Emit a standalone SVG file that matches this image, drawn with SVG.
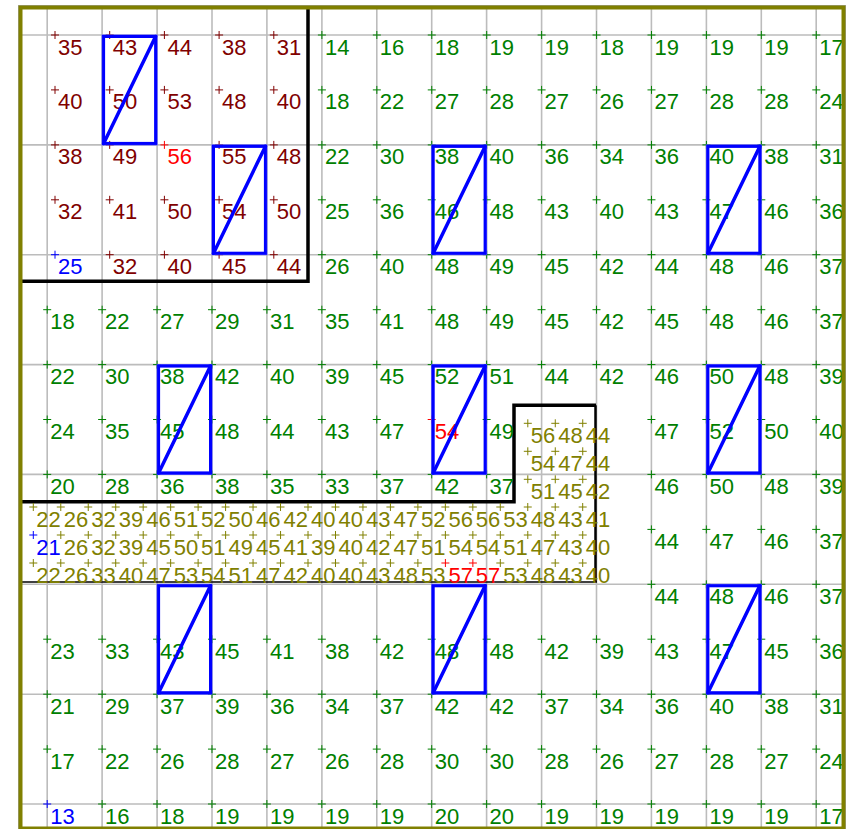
<svg xmlns="http://www.w3.org/2000/svg" xmlns:xlink="http://www.w3.org/1999/xlink" width="852" height="829" viewBox="0 0 852 829">
<style>
text{font-family:"Liberation Sans",Arial,sans-serif;font-size:22px}
.g{fill:#008000}.m{fill:#800000}.o{fill:#808000}.r{fill:#ff0000}.b{fill:#0000ff}
.pg{stroke:#008000}.pm{stroke:#800000}.po{stroke:#808000}.pr{stroke:#ff0000}.pb{stroke:#0000ff}
.mk{fill:none;stroke-width:1}
.box{fill:none;stroke:#0000ff;stroke-width:3}
.boxt{fill:none;stroke:#5555ff;stroke-width:1}
.diag{stroke:#0000ff;stroke-width:3.5;stroke-linecap:round}
</style>
<rect x="0" y="0" width="852" height="829" fill="#ffffff"/>
<g id="grid" fill="none" stroke="#bcbcbc" stroke-width="1.6">
<path d="M47.2 7V828M102.1 7V828M157.1 7V828M212 7V828M266.9 7V828M321.9 7V828M376.8 7V828M431.7 7V828M486.6 7V828M541.6 7V828M596.5 7V828M651.4 7V828M706.4 7V828M761.3 7V828M816.2 7V828"/>
<path d="M20 35H844M20 144.9H844M20 254.7H844M20 364.6H844M20 474.4H844M20 584.3H844M20 694.2H844M20 804H844"/>
</g>
<g id="boundaries" fill="none" stroke="#000000">
<path d="M22 281.3H308V8" stroke-width="3.5"/>
<path d="M22 501.7H514V405.3H596" stroke-width="3.5"/>
<path d="M595.5 405.3V582" stroke-width="2.5"/>
<path d="M22 582H597" stroke-width="1.5"/>
</g>
<g id="markers" class="mk">
<path class="pg" d="M317.9 35h8m-4-4v8m50.93-4h8m-4-4v8m50.93-4h8m-4-4v8m50.93-4h8m-4-4v8m50.93-4h8m-4-4v8m50.93-4h8m-4-4v8m50.93-4h8m-4-4v8m50.93-4h8m-4-4v8m50.93-4h8m-4-4v8m50.93-4h8m-4-4v8
M317.9 89.9h8m-4-4v8m50.93-4h8m-4-4v8m50.93-4h8m-4-4v8m50.93-4h8m-4-4v8m50.93-4h8m-4-4v8m50.93-4h8m-4-4v8m50.93-4h8m-4-4v8m50.93-4h8m-4-4v8m50.93-4h8m-4-4v8m50.93-4h8m-4-4v8
M317.9 144.9h8m-4-4v8m50.93-4h8m-4-4v8m50.93-4h8m-4-4v8m50.93-4h8m-4-4v8m50.93-4h8m-4-4v8m50.93-4h8m-4-4v8m50.93-4h8m-4-4v8m50.93-4h8m-4-4v8m50.93-4h8m-4-4v8m50.93-4h8m-4-4v8
M317.9 199.8h8m-4-4v8m50.93-4h8m-4-4v8m50.93-4h8m-4-4v8m50.93-4h8m-4-4v8m50.93-4h8m-4-4v8m50.93-4h8m-4-4v8m50.93-4h8m-4-4v8m50.93-4h8m-4-4v8m50.93-4h8m-4-4v8m50.93-4h8m-4-4v8
M317.9 254.7h8m-4-4v8m50.93-4h8m-4-4v8m50.93-4h8m-4-4v8m50.93-4h8m-4-4v8m50.93-4h8m-4-4v8m50.93-4h8m-4-4v8m50.93-4h8m-4-4v8m50.93-4h8m-4-4v8m50.93-4h8m-4-4v8m50.93-4h8m-4-4v8
M43.2 309.7h8m-4-4v8m50.93-4h8m-4-4v8m50.93-4h8m-4-4v8m50.93-4h8m-4-4v8m50.93-4h8m-4-4v8m50.93-4h8m-4-4v8m50.93-4h8m-4-4v8m50.93-4h8m-4-4v8m50.93-4h8m-4-4v8m50.93-4h8m-4-4v8m50.93-4h8m-4-4v8m50.93-4h8m-4-4v8m50.93-4h8m-4-4v8m50.93-4h8m-4-4v8m50.93-4h8m-4-4v8
M43.2 364.6h8m-4-4v8m50.93-4h8m-4-4v8m50.93-4h8m-4-4v8m50.93-4h8m-4-4v8m50.93-4h8m-4-4v8m50.93-4h8m-4-4v8m50.93-4h8m-4-4v8m50.93-4h8m-4-4v8m50.93-4h8m-4-4v8m50.93-4h8m-4-4v8m50.93-4h8m-4-4v8m50.93-4h8m-4-4v8m50.93-4h8m-4-4v8m50.93-4h8m-4-4v8m50.93-4h8m-4-4v8
M43.2 419.5h8m-4-4v8m50.93-4h8m-4-4v8m50.93-4h8m-4-4v8m50.93-4h8m-4-4v8m50.93-4h8m-4-4v8m50.93-4h8m-4-4v8m50.93-4h8m-4-4v8M482.6 419.5h8m-4-4v8M647.4 419.5h8m-4-4v8m50.93-4h8m-4-4v8m50.93-4h8m-4-4v8m50.93-4h8m-4-4v8
M43.2 474.4h8m-4-4v8m50.93-4h8m-4-4v8m50.93-4h8m-4-4v8m50.93-4h8m-4-4v8m50.93-4h8m-4-4v8m50.93-4h8m-4-4v8m50.93-4h8m-4-4v8m50.93-4h8m-4-4v8m50.93-4h8m-4-4v8M647.4 474.4h8m-4-4v8m50.93-4h8m-4-4v8m50.93-4h8m-4-4v8m50.93-4h8m-4-4v8
M647.4 529.4h8m-4-4v8m50.93-4h8m-4-4v8m50.93-4h8m-4-4v8m50.93-4h8m-4-4v8
M647.4 584.3h8m-4-4v8m50.93-4h8m-4-4v8m50.93-4h8m-4-4v8m50.93-4h8m-4-4v8
M43.2 639.2h8m-4-4v8m50.93-4h8m-4-4v8m50.93-4h8m-4-4v8m50.93-4h8m-4-4v8m50.93-4h8m-4-4v8m50.93-4h8m-4-4v8m50.93-4h8m-4-4v8m50.93-4h8m-4-4v8m50.93-4h8m-4-4v8m50.93-4h8m-4-4v8m50.93-4h8m-4-4v8m50.93-4h8m-4-4v8m50.93-4h8m-4-4v8m50.93-4h8m-4-4v8m50.93-4h8m-4-4v8
M43.2 694.2h8m-4-4v8m50.93-4h8m-4-4v8m50.93-4h8m-4-4v8m50.93-4h8m-4-4v8m50.93-4h8m-4-4v8m50.93-4h8m-4-4v8m50.93-4h8m-4-4v8m50.93-4h8m-4-4v8m50.93-4h8m-4-4v8m50.93-4h8m-4-4v8m50.93-4h8m-4-4v8m50.93-4h8m-4-4v8m50.93-4h8m-4-4v8m50.93-4h8m-4-4v8m50.93-4h8m-4-4v8
M43.2 749.1h8m-4-4v8m50.93-4h8m-4-4v8m50.93-4h8m-4-4v8m50.93-4h8m-4-4v8m50.93-4h8m-4-4v8m50.93-4h8m-4-4v8m50.93-4h8m-4-4v8m50.93-4h8m-4-4v8m50.93-4h8m-4-4v8m50.93-4h8m-4-4v8m50.93-4h8m-4-4v8m50.93-4h8m-4-4v8m50.93-4h8m-4-4v8m50.93-4h8m-4-4v8m50.93-4h8m-4-4v8
M98.1 804h8m-4-4v8m50.93-4h8m-4-4v8m50.93-4h8m-4-4v8m50.93-4h8m-4-4v8m50.93-4h8m-4-4v8m50.93-4h8m-4-4v8m50.93-4h8m-4-4v8m50.93-4h8m-4-4v8m50.93-4h8m-4-4v8m50.93-4h8m-4-4v8m50.93-4h8m-4-4v8m50.93-4h8m-4-4v8m50.93-4h8m-4-4v8m50.93-4h8m-4-4v8"/>
<path class="pm" d="M51 35h8m-4-4v8m50.7-4h8m-4-4v8m50.7-4h8m-4-4v8m50.7-4h8m-4-4v8m50.7-4h8m-4-4v8
M51 89.9h8m-4-4v8m50.7-4h8m-4-4v8m50.7-4h8m-4-4v8m50.7-4h8m-4-4v8m50.7-4h8m-4-4v8
M51 144.9h8m-4-4v8m50.7-4h8m-4-4v8M215.1 144.9h8m-4-4v8m50.7-4h8m-4-4v8
M51 199.8h8m-4-4v8m50.7-4h8m-4-4v8m50.7-4h8m-4-4v8m50.7-4h8m-4-4v8m50.7-4h8m-4-4v8
M105.7 254.7h8m-4-4v8m50.7-4h8m-4-4v8m50.7-4h8m-4-4v8m50.7-4h8m-4-4v8"/>
<path class="po" d="M523.8 423.3h8m-4-4v8m23.47-4h8m-4-4v8m23.47-4h8m-4-4v8
M523.8 451.3h8m-4-4v8m23.47-4h8m-4-4v8m23.47-4h8m-4-4v8
M523.8 479.3h8m-4-4v8m23.47-4h8m-4-4v8m23.47-4h8m-4-4v8
M29.3 507h8m-4-4v8m23.47-4h8m-4-4v8m23.47-4h8m-4-4v8m23.47-4h8m-4-4v8m23.47-4h8m-4-4v8m23.47-4h8m-4-4v8m23.47-4h8m-4-4v8m23.47-4h8m-4-4v8m23.47-4h8m-4-4v8m23.47-4h8m-4-4v8m23.47-4h8m-4-4v8m23.47-4h8m-4-4v8m23.47-4h8m-4-4v8m23.47-4h8m-4-4v8m23.47-4h8m-4-4v8m23.47-4h8m-4-4v8m23.47-4h8m-4-4v8m23.47-4h8m-4-4v8m23.47-4h8m-4-4v8m23.47-4h8m-4-4v8m23.47-4h8m-4-4v8
M56.8 535h8m-4-4v8m23.47-4h8m-4-4v8m23.47-4h8m-4-4v8m23.47-4h8m-4-4v8m23.47-4h8m-4-4v8m23.47-4h8m-4-4v8m23.47-4h8m-4-4v8m23.47-4h8m-4-4v8m23.47-4h8m-4-4v8m23.47-4h8m-4-4v8m23.47-4h8m-4-4v8m23.47-4h8m-4-4v8m23.47-4h8m-4-4v8m23.47-4h8m-4-4v8m23.47-4h8m-4-4v8m23.47-4h8m-4-4v8m23.47-4h8m-4-4v8m23.47-4h8m-4-4v8m23.47-4h8m-4-4v8m23.47-4h8m-4-4v8
M29.3 563h8m-4-4v8m23.47-4h8m-4-4v8m23.47-4h8m-4-4v8m23.47-4h8m-4-4v8m23.47-4h8m-4-4v8m23.47-4h8m-4-4v8m23.47-4h8m-4-4v8m23.47-4h8m-4-4v8m23.47-4h8m-4-4v8m23.47-4h8m-4-4v8m23.47-4h8m-4-4v8m23.47-4h8m-4-4v8m23.47-4h8m-4-4v8m23.47-4h8m-4-4v8m23.47-4h8m-4-4v8
M496.3 563h8m-4-4v8m23.47-4h8m-4-4v8m23.47-4h8m-4-4v8m23.47-4h8m-4-4v8"/>
<path class="pr" d="M160.4 144.9h8m-4-4v8M427.7 419.5h8m-4-4v8M441.4 563h8m-4-4v8m23.47-4h8m-4-4v8"/>
<path class="pb" d="M51 254.7h8m-4-4v8M43.2 804h8m-4-4v8M29.3 535h8m-4-4v8"/>
</g>
<g id="labels-refined-top" class="m">
<text x="58" y="54.5">35</text><text x="112.7" y="54.5">43</text><text x="167.4" y="54.5">44</text><text x="222.1" y="54.5">38</text><text x="276.8" y="54.5">31</text>
<text x="58" y="109.4">40</text><text x="112.7" y="109.4">50</text><text x="167.4" y="109.4">53</text><text x="222.1" y="109.4">48</text><text x="276.8" y="109.4">40</text>
<text x="58" y="164.4">38</text><text x="112.7" y="164.4">49</text><text class="r" x="167.4" y="164.4">56</text><text x="222.1" y="164.4">55</text><text x="276.8" y="164.4">48</text>
<text x="58" y="219.3">32</text><text x="112.7" y="219.3">41</text><text x="167.4" y="219.3">50</text><text x="222.1" y="219.3">54</text><text x="276.8" y="219.3">50</text>
<text class="b" x="58" y="274.2">25</text><text x="112.7" y="274.2">32</text><text x="167.4" y="274.2">40</text><text x="222.1" y="274.2">45</text><text x="276.8" y="274.2">44</text>
</g>
<g id="labels-coarse" class="g">
<text x="324.9" y="54.5">14</text><text x="379.8" y="54.5">16</text><text x="434.7" y="54.5">18</text><text x="489.6" y="54.5">19</text><text x="544.6" y="54.5">19</text><text x="599.5" y="54.5">18</text><text x="654.4" y="54.5">19</text><text x="709.4" y="54.5">19</text><text x="764.3" y="54.5">19</text><text x="819.2" y="54.5">17</text>
<text x="324.9" y="109.4">18</text><text x="379.8" y="109.4">22</text><text x="434.7" y="109.4">27</text><text x="489.6" y="109.4">28</text><text x="544.6" y="109.4">27</text><text x="599.5" y="109.4">26</text><text x="654.4" y="109.4">27</text><text x="709.4" y="109.4">28</text><text x="764.3" y="109.4">28</text><text x="819.2" y="109.4">24</text>
<text x="324.9" y="164.4">22</text><text x="379.8" y="164.4">30</text><text x="434.7" y="164.4">38</text><text x="489.6" y="164.4">40</text><text x="544.6" y="164.4">36</text><text x="599.5" y="164.4">34</text><text x="654.4" y="164.4">36</text><text x="709.4" y="164.4">40</text><text x="764.3" y="164.4">38</text><text x="819.2" y="164.4">31</text>
<text x="324.9" y="219.3">25</text><text x="379.8" y="219.3">36</text><text x="434.7" y="219.3">46</text><text x="489.6" y="219.3">48</text><text x="544.6" y="219.3">43</text><text x="599.5" y="219.3">40</text><text x="654.4" y="219.3">43</text><text x="709.4" y="219.3">47</text><text x="764.3" y="219.3">46</text><text x="819.2" y="219.3">36</text>
<text x="324.9" y="274.2">26</text><text x="379.8" y="274.2">40</text><text x="434.7" y="274.2">48</text><text x="489.6" y="274.2">49</text><text x="544.6" y="274.2">45</text><text x="599.5" y="274.2">42</text><text x="654.4" y="274.2">44</text><text x="709.4" y="274.2">48</text><text x="764.3" y="274.2">46</text><text x="819.2" y="274.2">37</text>
<text x="50.2" y="329.2">18</text><text x="105.1" y="329.2">22</text><text x="160.1" y="329.2">27</text><text x="215" y="329.2">29</text><text x="269.9" y="329.2">31</text><text x="324.9" y="329.2">35</text><text x="379.8" y="329.2">41</text><text x="434.7" y="329.2">48</text><text x="489.6" y="329.2">49</text><text x="544.6" y="329.2">45</text><text x="599.5" y="329.2">42</text><text x="654.4" y="329.2">45</text><text x="709.4" y="329.2">48</text><text x="764.3" y="329.2">46</text><text x="819.2" y="329.2">37</text>
<text x="50.2" y="384.1">22</text><text x="105.1" y="384.1">30</text><text x="160.1" y="384.1">38</text><text x="215" y="384.1">42</text><text x="269.9" y="384.1">40</text><text x="324.9" y="384.1">39</text><text x="379.8" y="384.1">45</text><text x="434.7" y="384.1">52</text><text x="489.6" y="384.1">51</text><text x="544.6" y="384.1">44</text><text x="599.5" y="384.1">42</text><text x="654.4" y="384.1">46</text><text x="709.4" y="384.1">50</text><text x="764.3" y="384.1">48</text><text x="819.2" y="384.1">39</text>
<text x="50.2" y="439">24</text><text x="105.1" y="439">35</text><text x="160.1" y="439">45</text><text x="215" y="439">48</text><text x="269.9" y="439">44</text><text x="324.9" y="439">43</text><text x="379.8" y="439">47</text><text class="r" x="434.7" y="439">54</text><text x="489.6" y="439">49</text><text x="654.4" y="439">47</text><text x="709.4" y="439">52</text><text x="764.3" y="439">50</text><text x="819.2" y="439">40</text>
<text x="50.2" y="493.9">20</text><text x="105.1" y="493.9">28</text><text x="160.1" y="493.9">36</text><text x="215" y="493.9">38</text><text x="269.9" y="493.9">35</text><text x="324.9" y="493.9">33</text><text x="379.8" y="493.9">37</text><text x="434.7" y="493.9">42</text><text x="489.6" y="493.9">37</text><text x="654.4" y="493.9">46</text><text x="709.4" y="493.9">50</text><text x="764.3" y="493.9">48</text><text x="819.2" y="493.9">39</text>
<text x="654.4" y="548.9">44</text><text x="709.4" y="548.9">47</text><text x="764.3" y="548.9">46</text><text x="819.2" y="548.9">37</text>
<text x="654.4" y="603.8">44</text><text x="709.4" y="603.8">48</text><text x="764.3" y="603.8">46</text><text x="819.2" y="603.8">37</text>
<text x="50.2" y="658.7">23</text><text x="105.1" y="658.7">33</text><text x="160.1" y="658.7">43</text><text x="215" y="658.7">45</text><text x="269.9" y="658.7">41</text><text x="324.9" y="658.7">38</text><text x="379.8" y="658.7">42</text><text x="434.7" y="658.7">48</text><text x="489.6" y="658.7">48</text><text x="544.6" y="658.7">42</text><text x="599.5" y="658.7">39</text><text x="654.4" y="658.7">43</text><text x="709.4" y="658.7">47</text><text x="764.3" y="658.7">45</text><text x="819.2" y="658.7">36</text>
<text x="50.2" y="713.7">21</text><text x="105.1" y="713.7">29</text><text x="160.1" y="713.7">37</text><text x="215" y="713.7">39</text><text x="269.9" y="713.7">36</text><text x="324.9" y="713.7">34</text><text x="379.8" y="713.7">37</text><text x="434.7" y="713.7">42</text><text x="489.6" y="713.7">42</text><text x="544.6" y="713.7">37</text><text x="599.5" y="713.7">34</text><text x="654.4" y="713.7">36</text><text x="709.4" y="713.7">40</text><text x="764.3" y="713.7">38</text><text x="819.2" y="713.7">31</text>
<text x="50.2" y="768.6">17</text><text x="105.1" y="768.6">22</text><text x="160.1" y="768.6">26</text><text x="215" y="768.6">28</text><text x="269.9" y="768.6">27</text><text x="324.9" y="768.6">26</text><text x="379.8" y="768.6">28</text><text x="434.7" y="768.6">30</text><text x="489.6" y="768.6">30</text><text x="544.6" y="768.6">28</text><text x="599.5" y="768.6">26</text><text x="654.4" y="768.6">27</text><text x="709.4" y="768.6">28</text><text x="764.3" y="768.6">27</text><text x="819.2" y="768.6">24</text>
<text class="b" x="50.2" y="823.5">13</text><text x="105.1" y="823.5">16</text><text x="160.1" y="823.5">18</text><text x="215" y="823.5">19</text><text x="269.9" y="823.5">19</text><text x="324.9" y="823.5">19</text><text x="379.8" y="823.5">19</text><text x="434.7" y="823.5">20</text><text x="489.6" y="823.5">20</text><text x="544.6" y="823.5">19</text><text x="599.5" y="823.5">19</text><text x="654.4" y="823.5">19</text><text x="709.4" y="823.5">19</text><text x="764.3" y="823.5">19</text><text x="819.2" y="823.5">17</text>
</g>
<g id="labels-refined-band" class="o">
<text x="530.8" y="442.8">56</text><text x="558.2" y="442.8">48</text><text x="585.7" y="442.8">44</text>
<text x="530.8" y="470.8">54</text><text x="558.2" y="470.8">47</text><text x="585.7" y="470.8">44</text>
<text x="530.8" y="498.8">51</text><text x="558.2" y="498.8">45</text><text x="585.7" y="498.8">42</text>
<text x="36.3" y="526.5">22</text><text x="63.8" y="526.5">26</text><text x="91.2" y="526.5">32</text><text x="118.7" y="526.5">39</text><text x="146.2" y="526.5">46</text><text x="173.7" y="526.5">51</text><text x="201.1" y="526.5">52</text><text x="228.6" y="526.5">50</text><text x="256.1" y="526.5">46</text><text x="283.5" y="526.5">42</text><text x="311" y="526.5">40</text><text x="338.5" y="526.5">40</text><text x="365.9" y="526.5">43</text><text x="393.4" y="526.5">47</text><text x="420.9" y="526.5">52</text><text x="448.4" y="526.5">56</text><text x="475.8" y="526.5">56</text><text x="503.3" y="526.5">53</text><text x="530.8" y="526.5">48</text><text x="558.2" y="526.5">43</text><text x="585.7" y="526.5">41</text>
<text class="b" x="36.3" y="554.5">21</text><text x="63.8" y="554.5">26</text><text x="91.2" y="554.5">32</text><text x="118.7" y="554.5">39</text><text x="146.2" y="554.5">45</text><text x="173.7" y="554.5">50</text><text x="201.1" y="554.5">51</text><text x="228.6" y="554.5">49</text><text x="256.1" y="554.5">45</text><text x="283.5" y="554.5">41</text><text x="311" y="554.5">39</text><text x="338.5" y="554.5">40</text><text x="365.9" y="554.5">42</text><text x="393.4" y="554.5">47</text><text x="420.9" y="554.5">51</text><text x="448.4" y="554.5">54</text><text x="475.8" y="554.5">54</text><text x="503.3" y="554.5">51</text><text x="530.8" y="554.5">47</text><text x="558.2" y="554.5">43</text><text x="585.7" y="554.5">40</text>
<text x="36.3" y="582.5">22</text><text x="63.8" y="582.5">26</text><text x="91.2" y="582.5">33</text><text x="118.7" y="582.5">40</text><text x="146.2" y="582.5">47</text><text x="173.7" y="582.5">53</text><text x="201.1" y="582.5">54</text><text x="228.6" y="582.5">51</text><text x="256.1" y="582.5">47</text><text x="283.5" y="582.5">42</text><text x="311" y="582.5">40</text><text x="338.5" y="582.5">40</text><text x="365.9" y="582.5">43</text><text x="393.4" y="582.5">48</text><text x="420.9" y="582.5">53</text><text class="r" x="448.4" y="582.5">57</text><text class="r" x="475.8" y="582.5">57</text><text x="503.3" y="582.5">53</text><text x="530.8" y="582.5">48</text><text x="558.2" y="582.5">43</text><text x="585.7" y="582.5">40</text>
</g>
<g id="boxes">
<g id="box1"><rect class="boxt" x="102.1" y="35" width="55" height="109.9"/><rect class="box" x="103.6" y="36.5" width="52" height="106.9"/><path class="diag" d="M103.6 143.4L155.6 36.5"/></g>
<g id="box2"><rect class="boxt" x="212" y="144.9" width="54.9" height="109.8"/><rect class="box" x="213.5" y="146.4" width="51.9" height="106.8"/><path class="diag" d="M213.5 253.2L265.4 146.4"/></g>
<g id="box3"><rect class="boxt" x="431.7" y="144.9" width="54.9" height="109.8"/><rect class="box" x="433.2" y="146.4" width="51.9" height="106.8"/><path class="diag" d="M433.2 253.2L485.1 146.4"/></g>
<g id="box4"><rect class="boxt" x="706.4" y="144.9" width="54.9" height="109.8"/><rect class="box" x="707.9" y="146.4" width="51.9" height="106.8"/><path class="diag" d="M707.9 253.2L759.8 146.4"/></g>
<g id="box5"><rect class="boxt" x="157.1" y="364.6" width="54.9" height="109.8"/><rect class="box" x="158.6" y="366.1" width="51.9" height="106.8"/><path class="diag" d="M158.6 472.9L210.5 366.1"/></g>
<g id="box6"><rect class="boxt" x="431.7" y="364.6" width="54.9" height="109.8"/><rect class="box" x="433.2" y="366.1" width="51.9" height="106.8"/><path class="diag" d="M433.2 472.9L485.1 366.1"/></g>
<g id="box7"><rect class="boxt" x="706.4" y="364.6" width="54.9" height="109.8"/><rect class="box" x="707.9" y="366.1" width="51.9" height="106.8"/><path class="diag" d="M707.9 472.9L759.8 366.1"/></g>
<g id="box8"><rect class="boxt" x="157.1" y="584.3" width="54.9" height="109.9"/><rect class="box" x="158.6" y="585.8" width="51.9" height="106.9"/><path class="diag" d="M158.6 692.7L210.5 585.8"/></g>
<g id="box9"><rect class="boxt" x="431.7" y="584.3" width="54.9" height="109.9"/><rect class="box" x="433.2" y="585.8" width="51.9" height="106.9"/><path class="diag" d="M433.2 692.7L485.1 585.8"/></g>
<g id="box10"><rect class="boxt" x="706.4" y="584.3" width="54.9" height="109.9"/><rect class="box" x="707.9" y="585.8" width="51.9" height="106.9"/><path class="diag" d="M707.9 692.7L759.8 585.8"/></g>
</g>
<g id="frame" fill="none">
<rect x="18.5" y="5.5" width="827" height="825" stroke="#a8a8a8" stroke-width="1"/>
<rect x="20.5" y="7.5" width="823" height="821" stroke="#808000" stroke-width="4"/>
</g>
</svg>
